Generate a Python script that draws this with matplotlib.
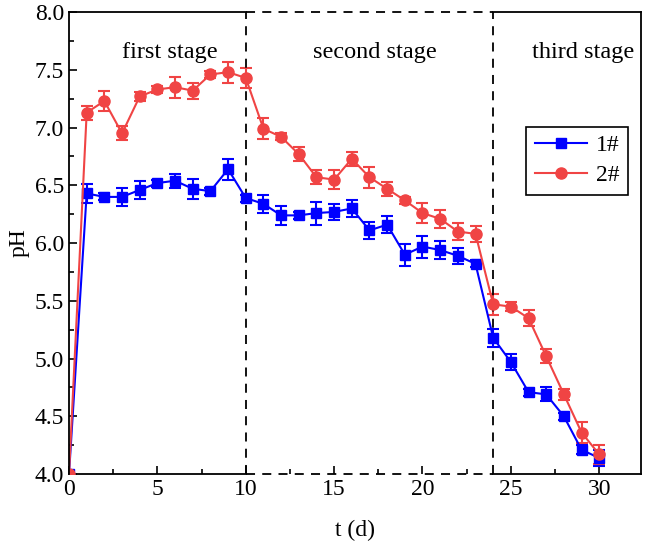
import numpy as np
import matplotlib.pyplot as plt

plt.rcParams['font.family'] = ['Liberation Serif', 'DejaVu Serif']

# days
t = list(range(0, 31))

# pH of sample 1#
ph1 = [4.00, 6.43, 6.40, 6.40, 6.46, 6.52, 6.54, 6.47, 6.45, 6.64, 6.39,
       6.34, 6.24, 6.24, 6.26, 6.27, 6.30, 6.11, 6.16, 5.90, 5.97,
       5.94, 5.89, 5.82, 5.18, 4.97, 4.71, 4.69, 4.50, 4.21, 4.14]
err1 = [0.00, 0.08, 0.03, 0.075, 0.075, 0.03, 0.06, 0.085, 0.03, 0.09, 0.03,
        0.08, 0.085, 0.03, 0.10, 0.07, 0.075, 0.075, 0.075, 0.095, 0.095,
        0.08, 0.07, 0.03, 0.08, 0.07, 0.03, 0.06, 0.03, 0.04, 0.07]

# pH of sample 2#
ph2 = [4.00, 7.13, 7.23, 6.95, 7.27, 7.33, 7.35, 7.32, 7.46, 7.48, 7.43,
       6.99, 6.92, 6.77, 6.57, 6.55, 6.73, 6.57, 6.47, 6.37, 6.26,
       6.21, 6.10, 6.08, 5.47, 5.45, 5.35, 5.02, 4.69, 4.36, 4.17]
err2 = [0.00, 0.06, 0.09, 0.06, 0.04, 0.03, 0.09, 0.07, 0.03, 0.09, 0.09,
        0.09, 0.03, 0.06, 0.06, 0.085, 0.06, 0.09, 0.06, 0.03, 0.085,
        0.08, 0.07, 0.07, 0.09, 0.04, 0.07, 0.06, 0.05, 0.09, 0.08]

stages = ['first stage', 'second stage', 'third stage']
stage_x = [5.7, 17.3, 29.1]
bounds = [10, 24]

blue = '#0000ff'
red = '#f04444'
xmax = 32.37

fig = plt.figure(figsize=(6.45, 5.5), dpi=100)
ax = fig.add_axes([0.107, 0.138, 0.887, 0.840])

eb1 = ax.errorbar(t, ph1, yerr=err1, color=blue, marker='s', markersize=7,
                  lw=1.5, capsize=4.5, elinewidth=1.5, capthick=1.5)
eb2 = ax.errorbar(t, ph2, yerr=err2, color=red, marker='o', markersize=8,
                  lw=1.5, capsize=4.5, elinewidth=1.5, capthick=1.5)

# dashed box around the second stage
for b in bounds:
    ax.plot([b, b], [4, 8], 'k--', lw=1.3, dashes=(5, 4), clip_on=False)
for yy in [4, 8]:
    ax.plot(bounds, [yy, yy], 'k--', lw=1.3, dashes=(5, 4), clip_on=False)
    ax.plot([0, bounds[0]], [yy, yy], 'k-', lw=1.3, clip_on=False)
    ax.plot([bounds[1], xmax], [yy, yy], 'k-', lw=1.3, clip_on=False)
ax.spines['top'].set_visible(False)
ax.spines['bottom'].set_visible(False)
for s in ['left', 'right']:
    ax.spines[s].set_linewidth(1.3)

for name, x in zip(stages, stage_x):
    ax.text(x, 7.65, name, fontsize=17.5, ha='center', va='center')

ax.set_xlim(0, xmax)
ax.set_ylim(4, 8)
ax.set_xticks(range(0, 31, 5))
ax.set_xticks(np.arange(0, 31, 2.5), minor=True)
ax.set_yticks(np.arange(4, 8.01, 0.5))
ax.set_yticks(np.arange(4, 8.01, 0.25), minor=True)
ax.yaxis.set_major_formatter(plt.FormatStrFormatter('%.1f'))
ax.tick_params(direction='in', which='major', length=6, width=1.2, labelsize=17)
ax.tick_params(direction='in', which='minor', length=3.5, width=1.2)
ax.set_xlabel('t (d)', fontsize=17, labelpad=14)
ax.set_ylabel('pH', fontsize=17, labelpad=4)

leg = ax.legend([eb1.lines[0], eb2.lines[0]], ['1#', '2#'],
                loc='upper right', bbox_to_anchor=(0.977, 0.752), borderaxespad=0,
                fontsize=17, fancybox=False, edgecolor='black', framealpha=1,
                handlelength=2.2, handletextpad=0.4, borderpad=0.35,
                labelspacing=0.35)
leg.get_frame().set_linewidth(1.2)

plt.savefig('out.png', dpi=100)
